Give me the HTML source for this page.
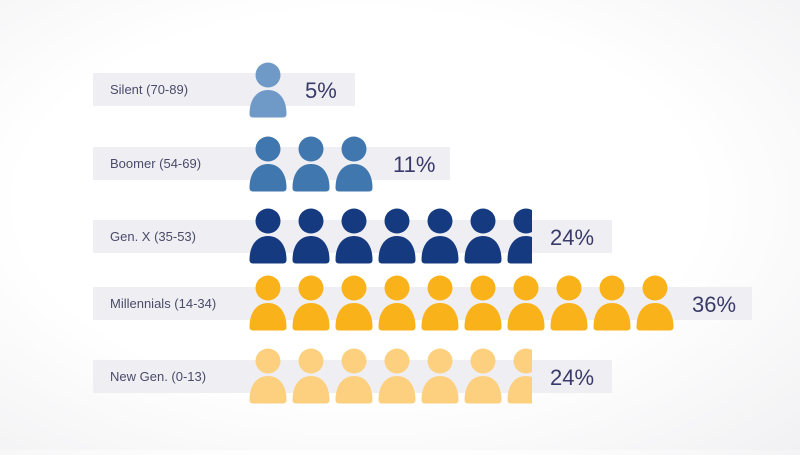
<!DOCTYPE html>
<html><head><meta charset="utf-8"><style>
html,body{margin:0;padding:0;}
body{width:800px;height:450px;overflow:hidden;background:radial-gradient(ellipse at 45% 45%,#ffffff 55%,#f1f1f3 100%);font-family:"Liberation Sans",sans-serif;}
</style></head><body>
<svg width="800" height="450" viewBox="0 0 800 450" xmlns="http://www.w3.org/2000/svg">
<defs>
<g id="p"><circle cx="0" cy="13" r="12.5"/><path d="M-18.5 24 C-18.5 9 -11 0 0 0 C11 0 18.5 9 18.5 24 Q18.5 27.5 15 27.5 L-15 27.5 Q-18.5 27.5 -18.5 24 Z" transform="translate(0,28)"/></g>
<clipPath id="c1"><rect x="0" y="0" width="532" height="450"/></clipPath>
</defs>
<g fill="#efeff3">
<rect x="93" y="73" width="262" height="33"/>
<rect x="93" y="147" width="357" height="33"/>
<rect x="93" y="220" width="519" height="33"/>
<rect x="93" y="287" width="659" height="33"/>
<rect x="93" y="360" width="519" height="33"/>
</g>
<g font-size="13" fill="#4a4a6a">
<text x="110" y="94">Silent (70-89)</text>
<text x="110" y="168">Boomer (54-69)</text>
<text x="110" y="241">Gen. X (35-53)</text>
<text x="110" y="308">Millennials (14-34)</text>
<text x="110" y="381">New Gen. (0-13)</text>
</g>
<g fill="#6f9ac8"><use href="#p" x="268" y="62"/></g>
<g fill="#3f77ae"><use href="#p" x="268" y="136"/><use href="#p" x="311" y="136"/><use href="#p" x="354" y="136"/></g>
<g fill="#163a80" clip-path="url(#c1)"><use href="#p" x="268" y="208"/><use href="#p" x="311" y="208"/><use href="#p" x="354" y="208"/><use href="#p" x="397" y="208"/><use href="#p" x="440" y="208"/><use href="#p" x="483" y="208"/><use href="#p" x="526" y="208"/></g>
<g fill="#f9b21a"><use href="#p" x="268" y="275"/><use href="#p" x="311" y="275"/><use href="#p" x="354" y="275"/><use href="#p" x="397" y="275"/><use href="#p" x="440" y="275"/><use href="#p" x="483" y="275"/><use href="#p" x="526" y="275"/><use href="#p" x="569" y="275"/><use href="#p" x="612" y="275"/><use href="#p" x="655" y="275"/></g>
<g fill="#fcd07e" clip-path="url(#c1)"><use href="#p" x="268" y="348"/><use href="#p" x="311" y="348"/><use href="#p" x="354" y="348"/><use href="#p" x="397" y="348"/><use href="#p" x="440" y="348"/><use href="#p" x="483" y="348"/><use href="#p" x="526" y="348"/></g>
<g font-size="22" fill="#3a3a6a">
<text x="305" y="98">5%</text>
<text x="393" y="172">11%</text>
<text x="550" y="245">24%</text>
<text x="692" y="312">36%</text>
<text x="550" y="385">24%</text>
</g>
</svg>
</body></html>
